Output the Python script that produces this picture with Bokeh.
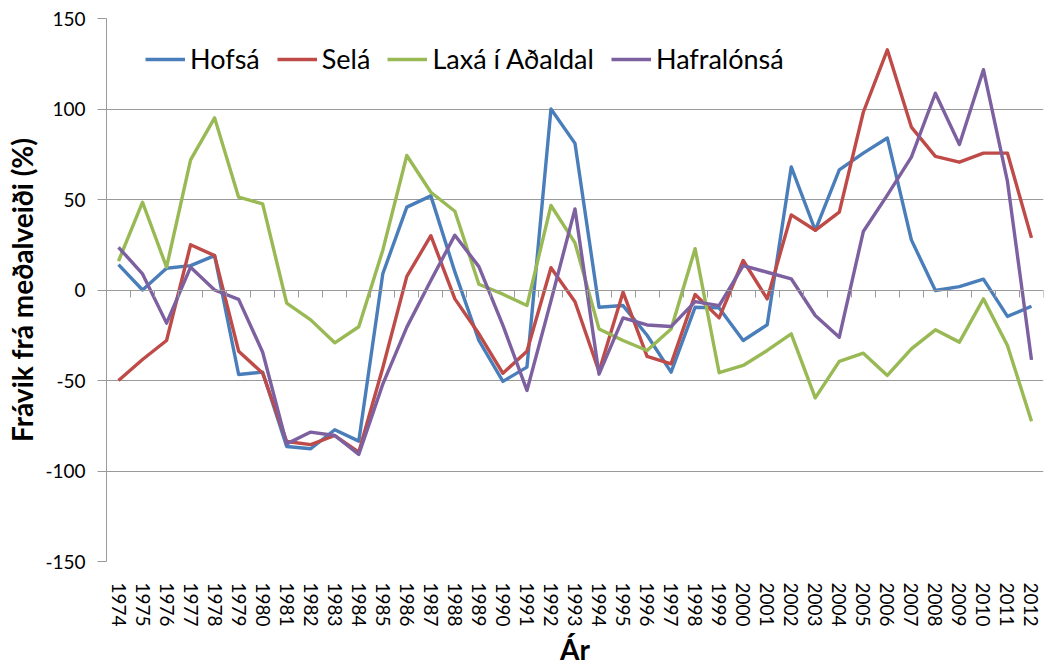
from bokeh.plotting import figure
from bokeh.models import (Range1d, FixedTicker, LinearAxis, Legend, LegendItem,
                          CustomJSTickFormatter)
from bokeh.embed import file_html
from bokeh.resources import INLINE

years = list(range(1974, 2013))

hofsa = [14, 0, 12, 13.5, 19, -46.7, -45.4, -86.5, -87.7, -77.2, -83.5, 9, 45.8, 52, 10,
         -27.9, -50.5, -42.6, 100, 81, -9.5, -8.6, -25, -45.4, -9.5, -9.9, -27.9, -19.2,
         68, 33, 66.4, 75.6, 84, 27.7, -0.3, 1.9, 6, -14.6, -9]
sela = [-50, -38.4, -27.9, 25, 19, -33.8, -46, -83.7, -85.4, -80.4, -89.6, -43, 7.5, 30,
        -4.9, -24.2, -46, -33.8, 12.3, -6.5, -45, -1.2, -36.7, -40.8, -2.5, -15.4, 16.3,
        -4.9, 41.5, 33, 43, 98.2, 132.7, 90, 73.8, 70.6, 75.6, 75.6, 28.8]
laxa = [16, 48.5, 12.6, 71.9, 95.1, 51.3, 47.6, -7.3, -16.5, -29.2, -20.3, 22, 74.3, 54,
        43.5, 3.2, -2.3, -8.6, 46.7, 26, -21.5, -27.9, -33.4, -21.5, 22.8, -45.7, -41.7,
        -33.4, -24.2, -59.6, -39.4, -34.9, -47.2, -32.5, -22, -28.8, -4.9, -30.7, -72.5]
hafralonsa = [23.6, 8.9, -18.3, 12.6, 0, -5.2, -34.4, -85, -78.5, -80.4, -90.9, -52,
              -20.5, 5.2, 30.3, 12.9, -19.5, -55.5, -6, 44.8, -46.5, -15.4, -19.3, -20.2,
              -6.4, -8.6, 13.5, 9.8, 6.2, -14.1, -26.1, 32.3, 52.4, 73.4, 108.7, 80.4,
              121.7, 60, -38.6]

series_names = ["Hofsá", "Selá", "Laxá í Aðaldal", "Hafralónsá"]
series_values = [hofsa, sela, laxa, hafralonsa]
colors = ["#4A7EBB", "#BE4B48", "#98B954", "#7D60A0"]
y_ticks = [-150, -100, -50, 0, 50, 100, 150]

FONT = "Lato"
GRAY = "#9a9a9a"

p = figure(width=1047, height=668, output_backend="svg", toolbar_location=None,
           x_range=Range1d(years[0] - 0.5, years[-1] + 0.5),
           y_range=Range1d(y_ticks[0], y_ticks[-1]),
           min_border_left=106, min_border_top=18, min_border_right=4, min_border_bottom=107)
p.outline_line_color = None
p.background_fill_color = "white"
p.border_fill_color = "white"

# y axis
yax = p.yaxis[0]
yax.ticker = FixedTicker(ticks=y_ticks)
yax.formatter = CustomJSTickFormatter(code="return String(tick)")
yax.axis_line_color = GRAY
yax.major_tick_line_color = GRAY
yax.major_tick_out = 9
yax.major_tick_in = 0
yax.minor_tick_line_color = None
yax.major_label_text_font = FONT
yax.major_label_text_font_size = "19px"
yax.major_label_text_color = "black"
yax.major_label_standoff = 12
yax.axis_label = "Frávik frá meðalveiði (%)"
yax.axis_label_text_font = FONT
yax.axis_label_text_font_style = "bold"
yax.axis_label_text_font_size = "28px"
yax.axis_label_text_color = "black"
yax.axis_label_standoff = 3

# bottom x axis (labels only)
xax = p.xaxis[0]
xax.ticker = FixedTicker(ticks=years)
xax.axis_line_color = None
xax.major_tick_line_color = None
xax.major_tick_out = 0
xax.major_tick_in = 0
xax.minor_tick_line_color = None
xax.major_label_orientation = "vertical"
xax.major_label_text_font = FONT
xax.major_label_text_font_size = "19px"
xax.major_label_text_color = "black"
xax.major_label_standoff = 21
xax.axis_label = "Ár"
xax.axis_label_text_font = FONT
xax.axis_label_text_font_style = "bold"
xax.axis_label_text_font_size = "28px"
xax.axis_label_text_color = "black"
xax.axis_label_standoff = 2

# horizontal axis crossing at zero with category-boundary ticks
bounds = [y + 0.5 for y in years[:-1]] + [years[-1] + 0.5]
zax = LinearAxis(fixed_location=0, ticker=FixedTicker(ticks=bounds),
                 formatter=CustomJSTickFormatter(code="return ''"))
zax.axis_line_color = GRAY
zax.major_tick_line_color = GRAY
zax.major_tick_in = 7
zax.major_tick_out = 0
zax.minor_tick_line_color = None
zax.major_label_standoff = 0
zax.major_label_text_font_size = "1px"
p.add_layout(zax, "above")

# grid
p.xgrid.grid_line_color = None
p.ygrid.ticker = FixedTicker(ticks=y_ticks)
p.ygrid.grid_line_color = GRAY
p.ygrid.grid_line_width = 1

items = []
for name, vals, col in zip(series_names, series_values, colors):
    r = p.line(years, vals, line_color=col, line_width=3.4, line_join="round")
    items.append(LegendItem(label=name, renderers=[r]))

legend = Legend(items=items, orientation="horizontal", location=(39, 486),
                glyph_width=40, glyph_height=30, label_height=30, label_standoff=5,
                spacing=17, padding=0, margin=0,
                label_text_font=FONT, label_text_font_size="27px",
                label_text_color="black",
                background_fill_alpha=0, border_line_color=None)
p.add_layout(legend, "center")

open("out.html", "w").write(file_html(p, INLINE))
